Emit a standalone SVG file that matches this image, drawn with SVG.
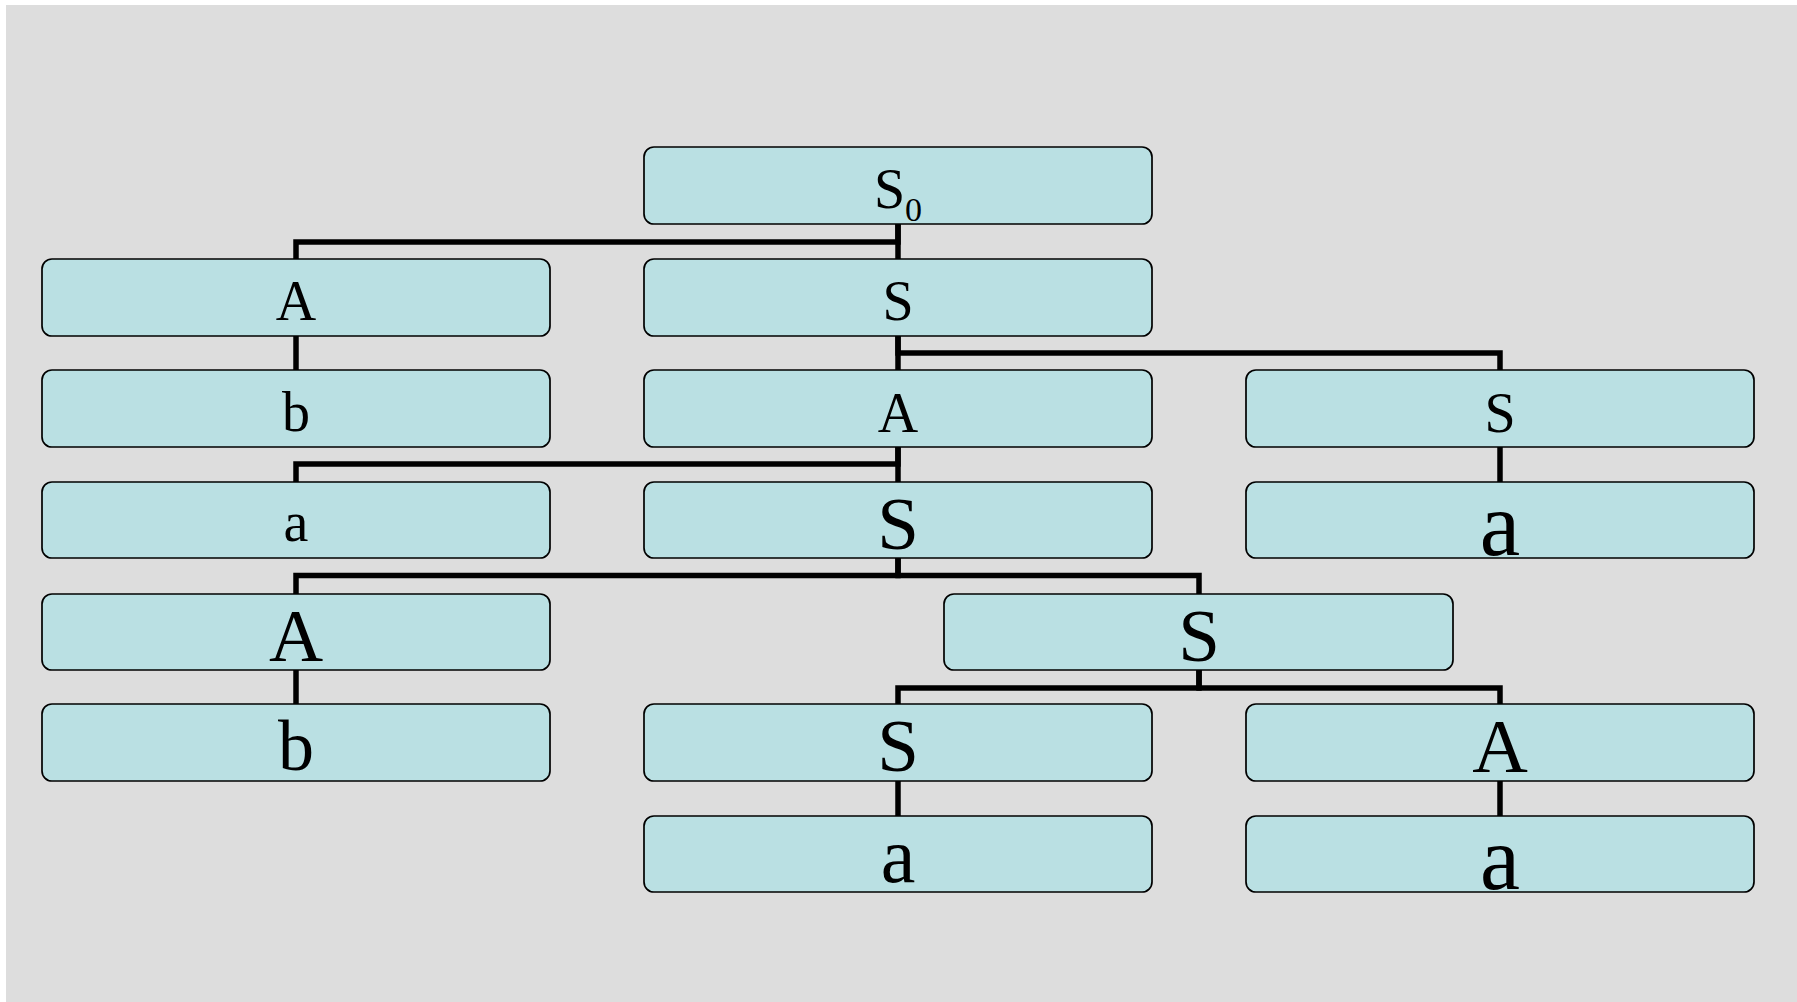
<svg xmlns="http://www.w3.org/2000/svg" width="1797" height="1002" viewBox="0 0 1797 1002">
<style>
.box{fill:#BAE0E3;stroke:#000;stroke-width:1.7}
.lbl{font-family:"Liberation Serif","Times New Roman",serif;fill:#000;text-anchor:middle}
.s56{font-size:56px}
.s75{font-size:75px}
.conn{fill:none;stroke:#000;stroke-width:5.5;stroke-linejoin:miter}
</style>
<rect x="0" y="0" width="1797" height="1002" fill="#FFFFFF"/>
<rect x="6" y="5" width="1791" height="997" fill="#DDDDDD"/>
<g id="connectors">
<path class="conn" d="M898,224 V242 H296 V259"/>
<path class="conn" d="M898,224 V259"/>
<path class="conn" d="M898,336 V370"/>
<path class="conn" d="M898,336 V353 H1500 V370"/>
<path class="conn" d="M296,336 V370"/>
<path class="conn" d="M898,447 V464 H296 V482"/>
<path class="conn" d="M898,447 V482"/>
<path class="conn" d="M1500,447 V482"/>
<path class="conn" d="M898,558 V575.5 H296 V594"/>
<path class="conn" d="M898,558 V575.5 H1199 V594"/>
<path class="conn" d="M296,670 V704"/>
<path class="conn" d="M1199,670 V688 H898 V704"/>
<path class="conn" d="M1199,670 V688 H1500 V704"/>
<path class="conn" d="M898,781 V816"/>
<path class="conn" d="M1500,781 V816"/>
</g>
<g id="n-S0"><rect class="box" x="644" y="147" width="508" height="77" rx="10"/><text class="lbl s56" x="898" y="207.5">S<tspan font-size="34" dy="13">0</tspan></text></g>
<g id="n-A1"><rect class="box" x="42" y="259" width="508" height="77" rx="10"/><text class="lbl s56" x="296" y="320">A</text></g>
<g id="n-S1"><rect class="box" x="644" y="259" width="508" height="77" rx="10"/><text class="lbl s56" x="898" y="320">S</text></g>
<g id="n-b2"><rect class="box" x="42" y="370" width="508" height="77" rx="10"/><text class="lbl s56" x="296" y="431">b</text></g>
<g id="n-A2"><rect class="box" x="644" y="370" width="508" height="77" rx="10"/><text class="lbl s56" x="898" y="431.5">A</text></g>
<g id="n-S2"><rect class="box" x="1246" y="370" width="508" height="77" rx="10"/><text class="lbl s56" x="1500" y="431.5">S</text></g>
<g id="n-a3"><rect class="box" x="42" y="482" width="508" height="76" rx="10"/><text class="lbl s56" x="296" y="541">a</text></g>
<g id="n-S3"><rect class="box" x="644" y="482" width="508" height="76" rx="10"/><text class="lbl s75" x="898" y="549">S</text></g>
<g id="n-a3r"><rect class="box" x="1246" y="482" width="508" height="76" rx="10"/><text class="lbl" font-size="91" x="1500" y="554.5">a</text></g>
<g id="n-A4"><rect class="box" x="42" y="594" width="508" height="76" rx="10"/><text class="lbl s75" x="296" y="660.5">A</text></g>
<g id="n-S4"><rect class="box" x="944" y="594" width="509" height="76" rx="10"/><text class="lbl s75" x="1199" y="661">S</text></g>
<g id="n-b5"><rect class="box" x="42" y="704" width="508" height="77" rx="10"/><text class="lbl" font-size="72" x="296" y="770">b</text></g>
<g id="n-S5"><rect class="box" x="644" y="704" width="508" height="77" rx="10"/><text class="lbl s75" x="898" y="771">S</text></g>
<g id="n-A5"><rect class="box" x="1246" y="704" width="508" height="77" rx="10"/><text class="lbl" font-size="77" x="1500" y="771.5">A</text></g>
<g id="n-a6"><rect class="box" x="644" y="816" width="508" height="76" rx="10"/><text class="lbl" font-size="78" x="898" y="882">a</text></g>
<g id="n-a6r"><rect class="box" x="1246" y="816" width="508" height="76" rx="10"/><text class="lbl" font-size="90" x="1500" y="888.5">a</text></g>
</svg>
